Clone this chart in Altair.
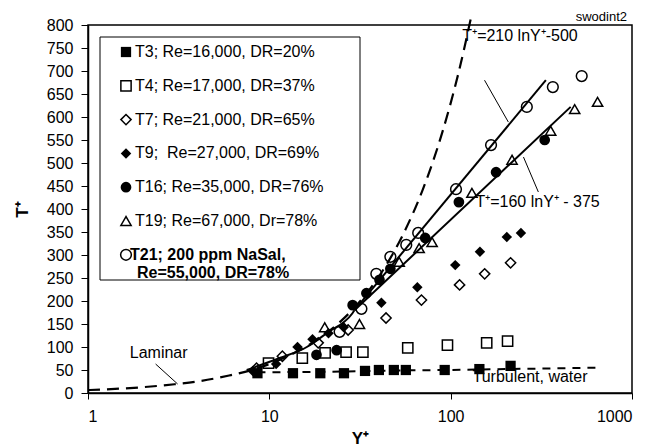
import altair as alt
import pandas as pd

# ---------------- data ----------------
t3_x = [8.6, 13.5, 19.1, 25.8, 33.7, 40.2, 48.6, 56.6, 92.7, 144, 214]
t3_y = [43, 43, 43, 43, 48, 50, 50, 50, 50, 52, 59]

t4_x = [9.9, 15.2, 20.3, 26.5, 32.8, 58, 96, 158, 206]
t4_y = [65, 76, 87, 89, 89, 98, 104, 109, 113]

t7_x = [8.5, 11.8, 18.6, 27.2, 44, 69, 112, 154, 214]
t7_y = [54, 80, 109, 137, 163, 202, 235, 259, 283]

t9_x = [8.1, 10.9, 14.3, 17.3, 21.2, 25.7, 41.5, 65.5, 106, 145, 204, 244]
t9_y = [48, 63, 100, 117, 130, 143, 196, 230, 278, 307, 339, 348]

t16_x = [18.2, 23.5, 28.8, 34.3, 40.5, 46.5, 72.4, 111, 178, 330]
t16_y = [83, 93, 191, 217, 246, 270, 337, 415, 480, 550]

t19_x = [20.2, 31.4, 52, 67, 79, 131, 218, 356, 483, 646]
t19_y = [143, 150, 285, 315, 328, 435, 507, 570, 617, 633]

t21_x = [24.4, 32.2, 38.9, 46.5, 56.9, 66.2, 107, 167, 263, 366, 528]
t21_y = [133, 183, 259, 296, 322, 348, 443, 539, 622, 665, 689]

laminar_x = [1, 2, 3, 4, 6, 8, 12, 16, 20, 30, 40, 55, 70, 90, 110, 130]
laminar_y = [6.3, 12.6, 19, 25, 38, 50, 76, 101, 126, 189, 252, 347, 441, 567, 693, 819]

turb_x = [8.6, 20, 50, 100, 200, 650]
turb_y = [45, 46, 49, 50, 52, 55]

fit_x = [7.5, 11.4, 16.1, 20.7, 28.8, 29.5]
fit_y = [50, 76, 100, 130, 174, 180]

upper_x = [29.5, 335]
upper_y = [180, 680]

lower_x = [29.5, 459]
lower_y = [180, 622]

legend_labels = [
    "T3; Re=16,000, DR=20%",
    "T4; Re=17,000, DR=37%",
    "T7; Re=21,000, DR=65%",
    "T9;\u00a0 Re=27,000, DR=69%",
    "T16; Re=35,000, DR=76%",
    "T19; Re=67,000, Dr=78%",
    "T21; 200 ppm NaSal,",
]
legend_extra = "Re=55,000, DR=78%"

series = [
    ("T3", t3_x, t3_y, "square", True, 105),
    ("T4", t4_x, t4_y, "square", False, 105),
    ("T7", t7_x, t7_y, "diamond", False, 105),
    ("T9", t9_x, t9_y, "diamond", True, 110),
    ("T16", t16_x, t16_y, "circle", True, 115),
    ("T19", t19_x, t19_y, "triangle-up", False, 105),
    ("T21", t21_x, t21_y, "circle", False, 115),
]

FONT = "Liberation Sans"

xscale = alt.Scale(type="log", domain=[1, 1000], nice=False)
yscale = alt.Scale(domain=[0, 800], nice=False, zero=True)
xaxis = alt.Axis(values=[1, 10, 100, 1000], format="d", title="Y\u207a",
                 titleFontWeight="bold", titleFontSize=17, titleX=272, titleY=45,
                 titleBaseline="middle", tickSize=6, labelPadding=9)
yaxis = alt.Axis(values=list(range(0, 801, 50)), title="T\u207a",
                 titleFontWeight="bold", titleFontSize=17, titleX=-66, titleY=184,
                 titleBaseline="middle", titleAlign="center", tickSize=7, labelPadding=8)


def enc_xy():
    return dict(
        x=alt.X("x:Q", scale=xscale, axis=xaxis),
        y=alt.Y("y:Q", scale=yscale, axis=yaxis),
    )


layers = []


def line_layer(xs, ys, dash=None, width=2.0, interp="linear"):
    df = pd.DataFrame({"x": xs, "y": ys})
    kw = dict(color="black", strokeWidth=width, clip=False, interpolate=interp)
    if dash is not None:
        kw["strokeDash"] = dash
    return alt.Chart(df).mark_line(**kw).encode(**enc_xy())


layers.append(line_layer(laminar_x, laminar_y, dash=[12, 7], width=2.2, interp="monotone"))
layers.append(line_layer(turb_x, turb_y, dash=[8, 7], width=2.0))
layers.append(line_layer(fit_x, fit_y, width=2.0, interp="monotone"))
layers.append(line_layer(upper_x, upper_y))
layers.append(line_layer(lower_x, lower_y))

# points
for name, xs, ys, shape, filled, size in series:
    df = pd.DataFrame({"x": xs, "y": ys})
    if filled:
        m = alt.Chart(df).mark_point(shape=shape, filled=True, color="black", size=size, opacity=1)
    else:
        m = alt.Chart(df).mark_point(shape=shape, filled=False, color="black", size=size,
                                     strokeWidth=1.5, opacity=1)
    layers.append(m.encode(**enc_xy()))

# annotations (data coordinates)
ann_text = ["T\u207a=210 lnY\u207a-500", "T\u207a=160 lnY\u207a - 375", "Turbulent, water", "Laminar"]
ann_x = [116, 137, 132, 1.70]
ann_y = [776, 415, 34, 87]
ann_df = pd.DataFrame({"x": ann_x, "y": ann_y, "t": ann_text})
layers.append(alt.Chart(ann_df).mark_text(align="left", baseline="middle", font=FONT,
                                           fontSize=16, color="black")
              .encode(text="t:N", **enc_xy()))

lead_x = [153.7, 208, 252, 304.5, 2.36, 3.12]
lead_y = [680, 589, 513, 437, 63, 19.6]
lead_id = ["a", "a", "b", "b", "c", "c"]
lead_df = pd.DataFrame({"x": lead_x, "y": lead_y, "g": lead_id})
layers.append(alt.Chart(lead_df).mark_line(color="black", strokeWidth=1)
              .encode(detail="g:N", **enc_xy()))

# legend box (pixel positions inside plot area)
one = pd.DataFrame({"a": [0]})
layers.append(alt.Chart(one).mark_rect(fill="white", stroke="black", strokeWidth=1)
              .encode(x=alt.value(12), x2=alt.value(272), y=alt.value(12), y2=alt.value(255)))

row0 = 27
step = 33.8
for i, (name, xs, ys, shape, filled, size) in enumerate(series):
    yy = row0 + step * i
    if filled:
        mk = alt.Chart(one).mark_point(shape=shape, filled=True, color="black", size=size, opacity=1)
    else:
        mk = alt.Chart(one).mark_point(shape=shape, filled=False, color="black", size=size,
                                       strokeWidth=1.5, opacity=1)
    layers.append(mk.encode(x=alt.value(38), y=alt.value(yy)))
    bold = name == "T21"
    tx = 42 if bold else 47
    layers.append(alt.Chart(pd.DataFrame({"t": [legend_labels[i]]}))
                  .mark_text(align="left", baseline="middle", font=FONT, fontSize=16,
                             fontWeight="bold" if bold else "normal", color="black")
                  .encode(text="t:N", x=alt.value(tx), y=alt.value(yy)))

layers.append(alt.Chart(pd.DataFrame({"t": [legend_extra]}))
              .mark_text(align="left", baseline="middle", font=FONT, fontSize=16,
                         fontWeight="bold", color="black")
              .encode(text="t:N", x=alt.value(49), y=alt.value(row0 + step * 6 + 18)))

layers.append(alt.Chart(pd.DataFrame({"t": ["swodint2"]}))
              .mark_text(align="right", baseline="middle", font=FONT, fontSize=13, color="black")
              .encode(text="t:N", x=alt.value(539), y=alt.value(-8)))

chart = alt.layer(*layers).properties(
    width=544, height=368,
    padding={"left": 88, "top": 25, "right": 30, "bottom": 54},
    autosize=alt.AutoSizeParams(type="none"),
    background="white",
).configure_view(stroke="black", strokeWidth=1.5).configure_axis(
    grid=False, domainColor="black", domainWidth=1.5, tickColor="black", tickWidth=1,
    labelColor="black", titleColor="black", labelFont=FONT, labelFontSize=16,
    titleFont=FONT,
)

chart.save("out.html", embed_options={"renderer": "svg", "actions": False})
